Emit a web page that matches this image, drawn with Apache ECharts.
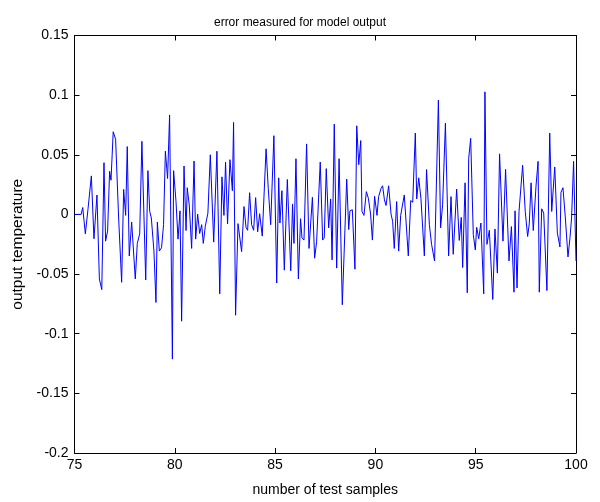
<!DOCTYPE html>
<html><head><meta charset="utf-8">
<script src="https://cdn.jsdelivr.net/npm/echarts@6/dist/echarts.min.js"></script>
<style>html,body{margin:0;padding:0;background:#fff}#c{width:600px;height:502px}</style>
</head><body><div id="c"></div>
<script>
const xs = [75.0,75.33,75.41,75.54,75.67,75.84,75.97,76.12,76.24,76.36,76.47,76.55,76.65,76.75,76.82,76.93,77.05,77.2,77.35,77.45,77.55,77.63,77.73,
77.85,78.03,78.13,78.25,78.36,78.55,78.66,78.75,78.83,78.96,79.06,79.13,79.23,79.34,79.44,79.53,79.64,79.74,79.88,79.94,80.06,80.16,80.26,80.34,80.46,
80.56,80.62,80.72,80.84,80.96,81.04,81.14,81.24,81.34,81.42,81.52,81.65,81.77,81.94,82.10,82.24,82.35,82.45,82.53,82.63,82.75,82.87,82.93,83.03,83.15,83.22,
83.33,83.45,83.55,83.63,83.73,83.83,83.93,84.03,84.13,84.23,84.36,84.55,84.66,84.78,84.94,85.08,85.18,85.24,85.34,85.46,85.61,85.78,85.87,85.94,
86.04,86.16,86.27,86.34,86.44,86.57,86.69,86.86,86.97,87.07,87.25,87.37,87.45,87.55,87.67,87.77,87.84,87.95,88.07,88.19,88.35,88.57,88.67,
88.73,88.85,88.98,89.07,89.17,89.27,89.33,89.43,89.55,89.65,89.76,89.85,89.96,90.08,90.16,90.28,90.36,90.45,90.53,90.66,90.78,90.86,90.94,91.06,91.16,91.26,91.34,91.44,
91.64,91.76,91.86,91.99,92.06,92.16,92.27,92.44,92.55,92.69,92.80,92.87,92.95,93.14,93.25,93.35,93.49,93.65,93.77,93.88,94.05,94.18,
94.28,94.35,94.47,94.58,94.65,94.75,94.88,94.98,95.05,95.15,95.26,95.40,95.46,95.56,95.68,95.85,95.96,96.08,96.19,96.36,96.49,96.66,96.78,96.91,
96.96,97.06,97.16,97.34,97.47,97.59,97.67,97.76,97.87,98.01,98.11,98.17,98.29,98.39,98.55,98.69,98.79,98.94,99.07,99.20,99.25,99.35,99.47,99.60,99.70,99.78,99.88,100.0];
const ys = [0,0,0.0058,-0.0163,0.004,0.0323,-0.0204,0.0163,-0.0541,-0.063,0.0434,-0.0224,-0.014,0.0362,0.0287,0.0693,0.063,-0.003,-0.0569,0.021,-0.0008,0.0569,-0.0348,
-0.0064,-0.0541,-0.0243,-0.0163,0.0613,-0.055,0.0367,0.0025,-0.003,-0.0307,-0.0738,-0.0064,-0.0307,-0.0279,-0.0086,0.053,0.0301,0.0834,-0.1213,0.0367,0.0108,-0.0207,0.003,-0.0895,0.0406,
-0.0135,0.0224,0.008,-0.0285,0.0448,-0.0207,0.0003,-0.016,-0.0086,-0.0243,-0.0099,0.0011,0.05,-0.0232,0.053,-0.0666,0.0315,-0.0008,0.0439,-0.008,0.0459,0.0199,0.0771,-0.0845,-0.0077,-0.0072,
-0.0312,0.0066,-0.0108,-0.0133,0.0182,-0.0086,-0.0133,0.0141,-0.0146,0.0006,-0.0182,0.055,0.0218,-0.0086,0.066,-0.0575,0.0307,-0.0072,0.0199,-0.0467,0.0293,-0.0472,0.0088,-0.0243,
0.0467,-0.0541,-0.0036,-0.0196,-0.0215,0.0591,-0.0285,0.0144,-0.0367,-0.0229,0.0439,-0.0215,-0.0196,0.0384,-0.0113,0.013,-0.0381,0.0757,-0.045,0.0467,-0.0757,0.0296,-0.0127,
0.003,0.0039,-0.0459,0.0743,0.0417,0.0619,0.0025,-0.0008,0.0191,0.0135,0.0003,-0.0215,0.0152,-0.0008,0.0149,0.0218,0.024,0.0122,0.0075,0.024,0.0003,-0.0058,-0.0285,0.0108,-0.0307,-0.0008,-0.0003,0.0163,
-0.0348,0.0116,0.0102,0.0682,0.013,0.0307,0.0135,-0.0348,0.0376,-0.0086,-0.0251,-0.0243,-0.039,0.0959,-0.0113,0.008,0.0765,-0.0348,0.0149,-0.0334,0.0213,-0.0218,
-0.0025,-0.0445,0.0265,-0.0657,0.0467,0.0638,-0.0169,-0.0298,-0.0108,-0.0204,-0.0072,-0.0666,0.1028,-0.0251,-0.0133,-0.0713,-0.0122,-0.0492,0.0508,-0.0224,0.0378,-0.039,-0.0102,-0.0652,
0.003,-0.0616,0.0025,0.0412,0.0025,-0.0185,-0.008,0.0265,-0.0135,0.0246,0.0445,-0.0652,0.0047,0.0011,-0.0638,0.0682,0.0025,0.0398,-0.0155,-0.0273,0.0185,0.0224,-0.003,-0.0356,-0.0196,-0.003,0.0445,-0.039];
const titleText = 'error measured for model output';
const xName = 'number of test samples';
const yName = 'output temperature';
const xMin = 75, xMax = 100, xStep = 5;
const yMin = -0.2, yMax = 0.15, yStep = 0.05;

const data = xs.map((x, i) => [x, ys[i]]);
const font = 'Liberation Sans, Arial, Helvetica, sans-serif';
const chart = echarts.init(document.getElementById('c'), null, {renderer: 'canvas'});
const fmt = v => String(Math.round(v * 100) / 100);
const baseAxis = {
  axisLine: {show: true, onZero: false, lineStyle: {color: '#000', width: 1}},
  axisTick: {show: true, inside: true, length: 5, lineStyle: {color: '#000'}},
  splitLine: {show: false}
};
chart.setOption({
  animation: false,
  backgroundColor: '#fff',
  title: {text: titleText, left: 'center', top: 12,
    textStyle: {fontFamily: font, fontSize: 12, fontWeight: 'normal', color: '#000'}},
  grid: {left: 74.5, right: 24, top: 35.5, bottom: 44.5},
  xAxis: [
    Object.assign({}, baseAxis, {type: 'value', min: xMin, max: xMax, interval: xStep, position: 'bottom',
      name: xName, nameLocation: 'middle', nameGap: 30,
      nameTextStyle: {fontFamily: font, fontSize: 14, color: '#000'},
      axisLabel: {fontFamily: font, fontSize: 14, color: '#000', margin: 5, formatter: fmt}}),
    Object.assign({}, baseAxis, {type: 'value', min: xMin, max: xMax, interval: xStep, position: 'top',
      axisLabel: {show: false}})
  ],
  yAxis: [
    Object.assign({}, baseAxis, {type: 'value', min: yMin, max: yMax, interval: yStep, position: 'left',
      name: yName, nameLocation: 'middle', nameGap: 43,
      nameTextStyle: {fontFamily: font, fontSize: 15.5, color: '#000'},
      axisLabel: {fontFamily: font, fontSize: 14, color: '#000', margin: 6, formatter: fmt}}),
    Object.assign({}, baseAxis, {type: 'value', min: yMin, max: yMax, interval: yStep, position: 'right',
      axisLabel: {show: false}})
  ],
  series: [{
    type: 'line', data: data, showSymbol: false, symbol: 'none',
    lineStyle: {color: '#0000ff', width: 1}, xAxisIndex: 0, yAxisIndex: 0
  }]
});
</script></body></html>
